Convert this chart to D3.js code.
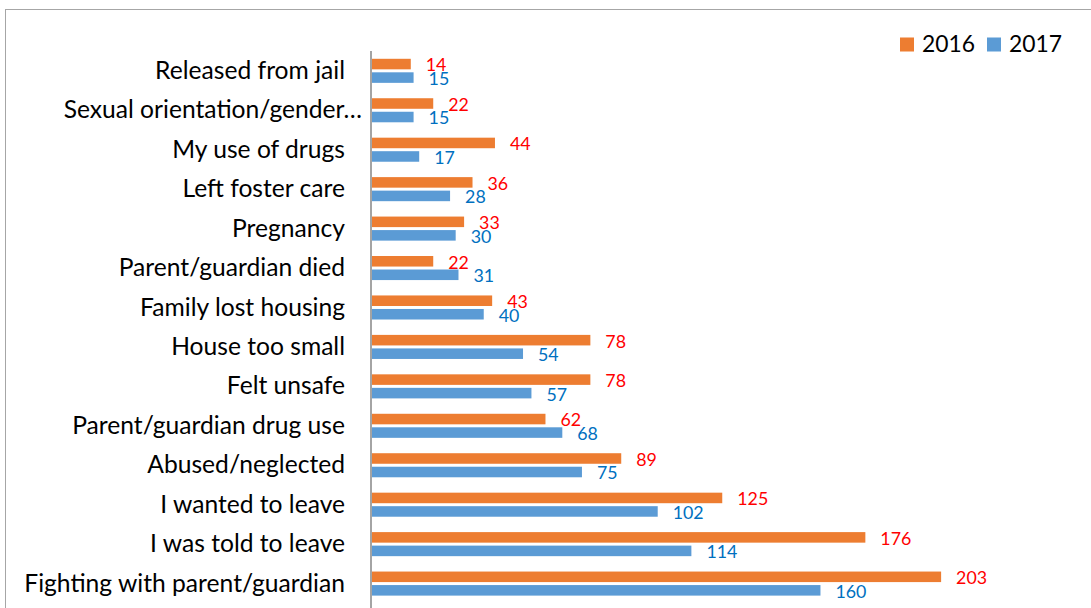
<!DOCTYPE html>
<html>
<head>
<meta charset="utf-8">
<script src="https://cdn.jsdelivr.net/npm/d3@7"></script>
<style>
  html, body { margin: 0; padding: 0; background: #fff; }
  svg { display: block; }
</style>
</head>
<body>
<svg id="chart" width="1091" height="608"></svg>
<script>
const categories = [
  "Released from jail",
  "Sexual orientation/gender…",
  "My use of drugs",
  "Left foster care",
  "Pregnancy",
  "Parent/guardian died",
  "Family lost housing",
  "House too small",
  "Felt unsafe",
  "Parent/guardian drug use",
  "Abused/neglected",
  "I wanted to leave",
  "I was told to leave",
  "Fighting with parent/guardian"
];
const values2016 = [14, 22, 44, 36, 33, 22, 43, 78, 78, 62, 89, 125, 176, 203];
const values2017 = [15, 15, 17, 28, 30, 31, 40, 54, 57, 68, 75, 102, 114, 160];
const seriesNames = ["2016", "2017"];

const FONT = "Lato, 'Open Sans', sans-serif";
const colors = { "2016": "#ED7D31", "2017": "#5B9BD5" };
const labelColors = { "2016": "#FF0000", "2017": "#0070C0" };

const svg = d3.select("#chart");

// outer border (extends beyond the visible area at right/bottom)
svg.append("rect")
  .attr("x", 5.5).attr("y", 9.5)
  .attr("width", 1200).attr("height", 700)
  .attr("fill", "none").attr("stroke", "#A6A6A6").attr("stroke-width", 1);

const data = categories.map((c, i) => ({
  cat: c,
  vals: [
    { s: "2016", v: values2016[i] },
    { s: "2017", v: values2017[i] }
  ]
}));

const x = d3.scaleLinear().domain([0, 250]).range([371.5, 1073]);
const y0 = d3.scaleBand().domain(categories).range([51.1, 603.3])
  .paddingInner(0.39).paddingOuter(0.195);
const y1 = d3.scaleBand().domain(seriesNames).range([0, y0.bandwidth()])
  .paddingInner(0.22).paddingOuter(0);

// fit font size helper
function fitSize(text, targetWidth) {
  const t = svg.append("text").attr("font-family", FONT).attr("font-size", 100).text(text);
  const w = t.node().getComputedTextLength();
  t.remove();
  return 100 * targetWidth / w;
}
const catSize = fitSize("Fighting with parent/guardian", 321);
const valSize = fitSize("160", 31);
const legSize = fitSize("2016", 53);

// groups
const g = svg.append("g");
const groups = g.selectAll("g.cat").data(data).join("g")
  .attr("class", "cat")
  .attr("transform", d => `translate(0,${y0(d.cat)})`);

groups.selectAll("rect").data(d => d.vals).join("rect")
  .attr("x", x(0) + 0.5)
  .attr("y", d => y1(d.s))
  .attr("width", d => x(d.v) - x(0) - 0.5)
  .attr("height", y1.bandwidth())
  .attr("fill", d => colors[d.s]);

groups.selectAll("text.val").data(d => d.vals).join("text")
  .attr("class", "val")
  .attr("x", d => x(d.v) + 15)
  .attr("y", d => y1(d.s) + y1.bandwidth() / 2 + 1)
  .attr("dy", "0.36em")
  .attr("font-family", FONT)
  .attr("font-size", valSize)
  .attr("fill", d => labelColors[d.s])
  .text(d => d.v);

// category axis (labels + vertical line)
const yAxisCenter = d3.scaleBand().domain(categories).range([51.1, 603.3]);
svg.append("line")
  .attr("x1", 371).attr("x2", 371)
  .attr("y1", 51).attr("y2", 608)
  .attr("stroke", "#868686").attr("stroke-width", 1.5);

svg.append("g").selectAll("text").data(categories).join("text")
  .attr("x", d => d.endsWith("…") ? 362 : 345)
  .attr("y", d => yAxisCenter(d) + yAxisCenter.bandwidth() / 2)
  .attr("dy", "0.33em")
  .attr("text-anchor", "end")
  .attr("font-family", FONT)
  .attr("font-size", catSize)
  .attr("fill", "#000")
  .text(d => d);

// legend
const legendX = { "2016": 900, "2017": 987 };
const leg = svg.append("g");
seriesNames.forEach(s => {
  leg.append("rect")
    .attr("x", legendX[s]).attr("y", 37.5)
    .attr("width", 14).attr("height", 14)
    .attr("fill", colors[s]);
  leg.append("text")
    .attr("x", legendX[s] + 22).attr("y", 52.3)
    .attr("font-family", FONT)
    .attr("font-size", legSize)
    .attr("fill", "#000")
    .text(s);
});
</script>
</body>
</html>
